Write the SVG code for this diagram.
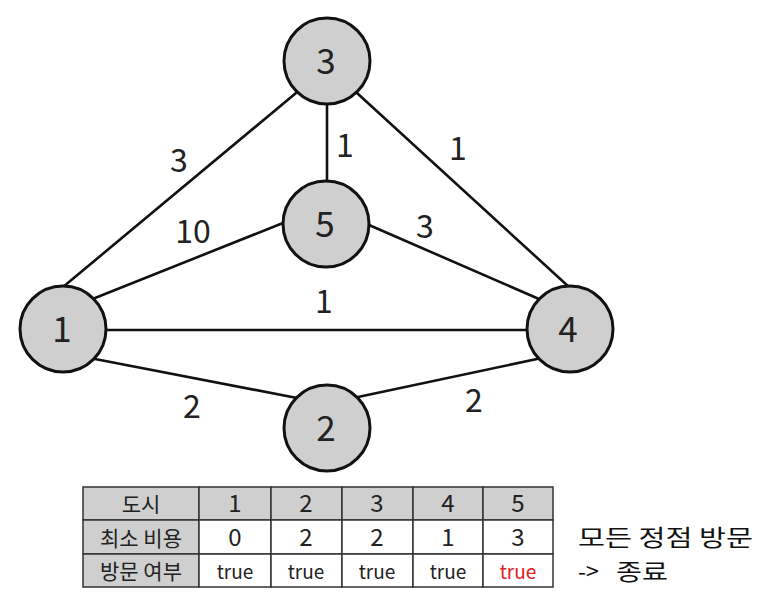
<svg xmlns="http://www.w3.org/2000/svg" width="773" height="601" viewBox="0 0 773 601">
<style>
.edge{stroke:#111;stroke-width:2.6;fill:none;stroke-linecap:round}
.node{fill:#cfcfcf;stroke:#111;stroke-width:3}
.nl{font-family:"Noto Sans CJK KR","Noto Sans",sans-serif;font-size:35px;fill:#222;text-anchor:middle}
.el{font-family:"Noto Sans CJK KR","Noto Sans",sans-serif;font-size:32px;fill:#222;text-anchor:middle}
.cellg{fill:#cfcfcf;stroke:#333;stroke-width:1.5}
.cellw{fill:#fff;stroke:#333;stroke-width:1.5}
.tk{font-family:"Noto Sans CJK KR","Noto Sans",sans-serif;font-size:21px;fill:#222;text-anchor:middle}
.td{font-family:"Noto Sans CJK KR","Noto Sans",sans-serif;font-size:24px;fill:#222;text-anchor:middle}
.tt{font-family:"Noto Sans CJK KR","Noto Sans",sans-serif;font-size:19px;fill:#222;text-anchor:middle}
.note{font-family:"Noto Sans CJK KR","Noto Sans",sans-serif;font-size:23px;fill:#111}
</style>
<rect width="773" height="601" fill="#fff"/>
<g id="connectors">
<line class="edge" x1="296" y1="93" x2="63" y2="287"/>
<line class="edge" x1="327" y1="104" x2="327" y2="182"/>
<line class="edge" x1="357" y1="93" x2="569" y2="287"/>
<line class="edge" x1="95" y1="298" x2="283" y2="223"/>
<line class="edge" x1="369" y1="225" x2="539" y2="299"/>
<line class="edge" x1="106" y1="330" x2="527" y2="330"/>
<line class="edge" x1="95" y1="359" x2="297" y2="398"/>
<line class="edge" x1="358" y1="397" x2="537" y2="359"/>
</g>
<g id="edge-labels">
<text class="el" x="179" y="172">3</text>
<text class="el" x="345" y="157">1</text>
<text class="el" x="458" y="160">1</text>
<text class="el" x="193" y="243">10</text>
<text class="el" x="425" y="238">3</text>
<text class="el" x="324" y="313">1</text>
<text class="el" x="192" y="418">2</text>
<text class="el" x="474" y="412">2</text>
</g>
<g id="node3"><circle class="node" cx="327" cy="61" r="43"/><text class="nl" x="326" y="74">3</text></g>
<g id="node5"><circle class="node" cx="326" cy="224" r="43"/><text class="nl" x="325" y="237">5</text></g>
<g id="node1"><circle class="node" cx="63" cy="329" r="43"/><text class="nl" x="62" y="342">1</text></g>
<g id="node4"><circle class="node" cx="570" cy="329" r="43"/><text class="nl" x="568" y="342">4</text></g>
<g id="node2"><circle class="node" cx="327" cy="428" r="43"/><text class="nl" x="326" y="441">2</text></g>
<g id="table">
<rect class="cellg" x="83" y="487" width="116" height="33"/>
<rect class="cellg" x="199" y="487" width="72" height="33"/>
<rect class="cellg" x="271" y="487" width="71" height="33"/>
<rect class="cellg" x="342" y="487" width="71" height="33"/>
<rect class="cellg" x="413" y="487" width="70" height="33"/>
<rect class="cellg" x="483" y="487" width="70" height="33"/>
<rect class="cellg" x="83" y="520" width="116" height="34"/>
<rect class="cellw" x="199" y="520" width="72" height="34"/>
<rect class="cellw" x="271" y="520" width="71" height="34"/>
<rect class="cellw" x="342" y="520" width="71" height="34"/>
<rect class="cellw" x="413" y="520" width="70" height="34"/>
<rect class="cellw" x="483" y="520" width="70" height="34"/>
<rect class="cellg" x="83" y="554" width="116" height="33"/>
<rect class="cellw" x="199" y="554" width="72" height="33"/>
<rect class="cellw" x="271" y="554" width="71" height="33"/>
<rect class="cellw" x="342" y="554" width="71" height="33"/>
<rect class="cellw" x="413" y="554" width="70" height="33"/>
<rect class="cellw" x="483" y="554" width="70" height="33"/>
<text class="tk" x="141" y="512">도시</text>
<text class="td" x="235" y="512">1</text>
<text class="td" x="306" y="512">2</text>
<text class="td" x="377" y="512">3</text>
<text class="td" x="448" y="512">4</text>
<text class="td" x="518" y="512">5</text>
<text class="tk" x="141" y="546">최소 비용</text>
<text class="td" x="235" y="546">0</text>
<text class="td" x="306" y="546">2</text>
<text class="td" x="377" y="546">2</text>
<text class="td" x="448" y="546">1</text>
<text class="td" x="518" y="546">3</text>
<text class="tk" x="141" y="579">방문 여부</text>
<text class="tt" x="235" y="579">true</text>
<text class="tt" x="306" y="579">true</text>
<text class="tt" x="377" y="579">true</text>
<text class="tt" x="448" y="579">true</text>
<text class="tt" x="518" y="579" style="fill:#e0201c">true</text>
</g>
<g id="note">
<text class="note" x="578" y="546" textLength="175" lengthAdjust="spacingAndGlyphs">모든 정점 방문</text>
<text class="note" x="578" y="580">-&gt; <tspan x="616" textLength="52" lengthAdjust="spacingAndGlyphs">종료</tspan></text>
</g>
</svg>
